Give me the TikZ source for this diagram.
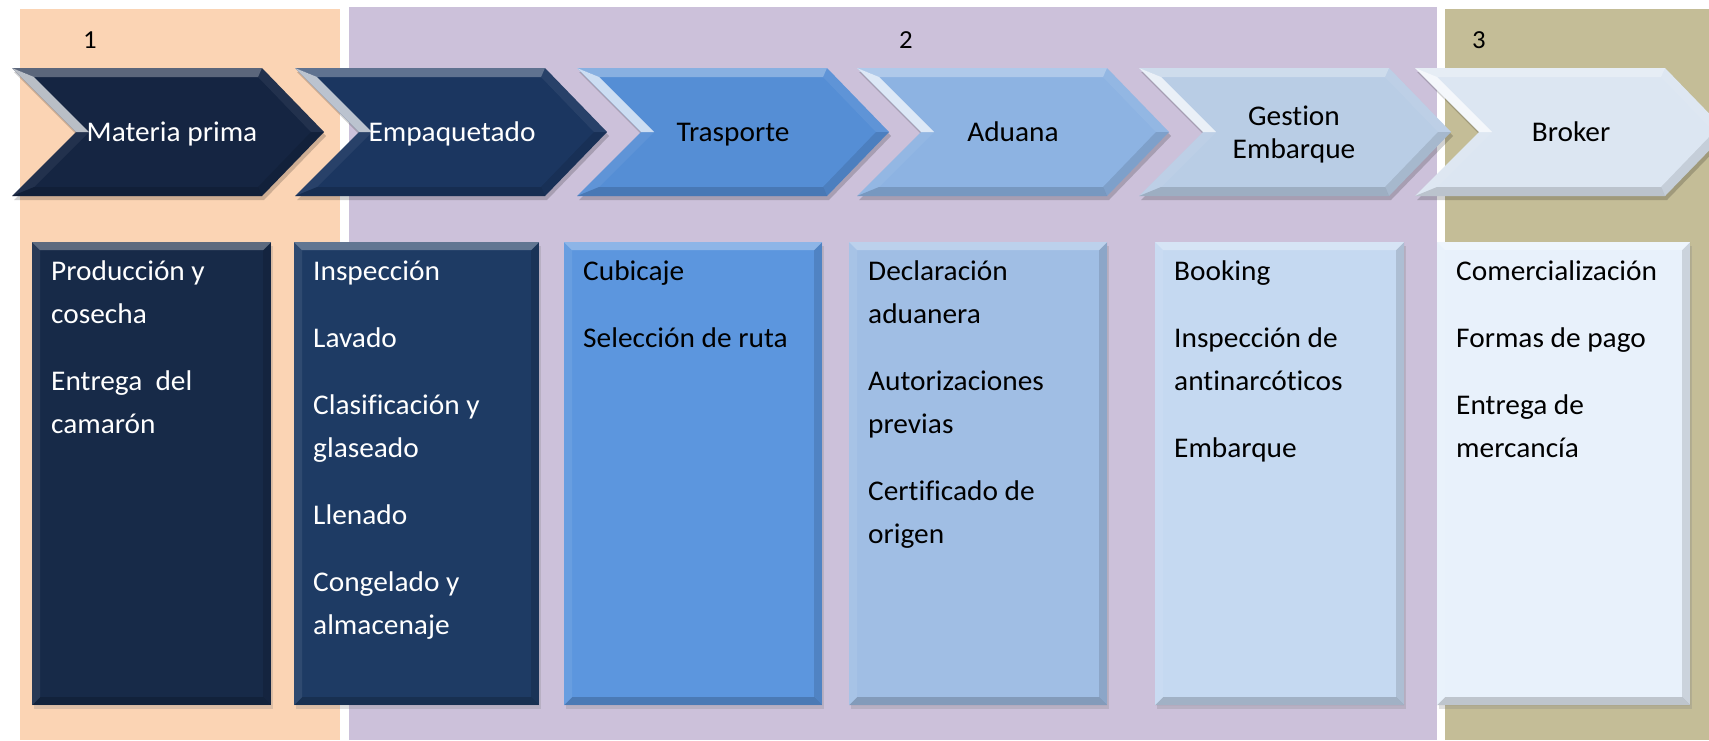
\documentclass[tikz,border=0pt]{standalone}
\usepackage{fontspec}
\setmainfont{Carlito}[Ligatures=NoCommon, FakeStretch=1.03]
\usepackage{tikz}
\usetikzlibrary{positioning, shadows}
\definecolor{fondouno}{HTML}{FBD4B4}
\definecolor{fondodos}{HTML}{CCC1DA}
\definecolor{fondotres}{HTML}{C4BD97}
\definecolor{flechauno}{HTML}{152542}
\definecolor{flechados}{HTML}{1B3660}
\definecolor{flechatres}{HTML}{558ED5}
\definecolor{flechacuatro}{HTML}{8DB3E2}
\definecolor{flechacinco}{HTML}{B9CDE5}
\definecolor{flechaseis}{HTML}{DCE6F2}
\definecolor{cajauno}{HTML}{172A48}
\definecolor{cajados}{HTML}{1E3B64}
\definecolor{cajatres}{HTML}{5C96DE}
\definecolor{cajacuatro}{HTML}{A0BEE4}
\definecolor{cajacinco}{HTML}{C5D9F1}
\definecolor{cajaseis}{HTML}{E8F1FB}
\tikzstyle{etapa} = [font=\fontsize{28.5}{33}\selectfont, align=center, inner sep=0pt]
\tikzstyle{numero} = [font=\fontsize{26}{26}\selectfont, inner sep=0pt, anchor=base]
\tikzstyle{texto} = [font=\fontsize{28.5}{43}\selectfont, inner sep=0pt, anchor=base west]
\tikzstyle{caja} = [rectangle, inner sep=0pt, anchor=north west, minimum height=463pt,
    drop shadow={opacity=.25, shadow xshift=2pt, shadow yshift=-4pt},
    path picture={
      \fill[white, opacity=.3] (path picture bounding box.north west) -- (path picture bounding box.north east)
        -- ([shift={(-8pt,-8pt)}]path picture bounding box.north east) -- ([shift={(8pt,-8pt)}]path picture bounding box.north west) -- cycle;
      \fill[black, opacity=.12] (path picture bounding box.north east) -- (path picture bounding box.south east)
        -- ([shift={(-8pt,8pt)}]path picture bounding box.south east) -- ([shift={(-8pt,-8pt)}]path picture bounding box.north east) -- cycle;
      \fill[black, opacity=.18] (path picture bounding box.south east) -- (path picture bounding box.south west)
        -- ([shift={(8pt,8pt)}]path picture bounding box.south west) -- ([shift={(-8pt,8pt)}]path picture bounding box.south east) -- cycle;
      \fill[white, opacity=.08] (path picture bounding box.south west) -- (path picture bounding box.north west)
        -- ([shift={(8pt,-8pt)}]path picture bounding box.north west) -- ([shift={(8pt,8pt)}]path picture bounding box.south west) -- cycle;
    }]
% flecha con bisel, #1 = x izquierda, #2 = color
\newcommand{\flecha}[2]{%
  \fill[black, opacity=.18] (#1+2,72) -- (#1+252,72) -- (#1+314,136) -- (#1+252,200) -- (#1+2,200) -- (#1+66,136) -- cycle;
  \fill[#2] (#1,68) -- (#1+250,68) -- (#1+312,132) -- (#1+250,196) -- (#1,196) -- (#1+64,132) -- cycle;
  \fill[white, opacity=.3] (#1,68) -- (#1+250,68) -- (#1+246,77) -- (#1+22,77) -- cycle; %arriba
  \fill[white, opacity=.7] (#1,68) -- (#1+22,77) -- (#1+77,132) -- (#1+64,132) -- cycle; %muesca
  \fill[white, opacity=.06] (#1+64,132) -- (#1+77,132) -- (#1+22,187) -- (#1,196) -- cycle;
  \fill[white, opacity=.06] (#1+250,68) -- (#1+312,132) -- (#1+299,132) -- (#1+246,77) -- cycle;
  \fill[black, opacity=.1] (#1+312,132) -- (#1+250,196) -- (#1+246,187) -- (#1+299,132) -- cycle;
  \fill[black, opacity=.15] (#1+250,196) -- (#1,196) -- (#1+22,187) -- (#1+246,187) -- cycle; %abajo
}

\begin{document}
\begin{tikzpicture}[x=1pt, y=-1pt]
	\useasboundingbox (0,0) rectangle (1709,740);
	\clip (0,0) rectangle (1709,740);

	% fondos
	\fill[fondouno] (20,9) rectangle (340,740);
	\fill[fondodos] (349,7) rectangle (1437,740);
	\fill[fondotres] (1445,9) rectangle (1709,740);

	\node[numero] (n1) at (90,48) {1};
	\node[numero] (n2) at (906,48) {2};
	\node[numero] (n3) at (1479,48) {3};

	% flechas
	\flecha{12}{flechauno}
	\flecha{295}{flechados}
	\flecha{577}{flechatres}
	\flecha{857}{flechacuatro}
	\flecha{1139}{flechacinco}
	\flecha{1415}{flechaseis}

	\node[etapa, anchor=base, text=white] (e1) at (172,141) {Materia prima};
	\node[etapa, anchor=base, text=white] (e2) at (452,141) {Empaquetado};
	\node[etapa, anchor=base] (e3) at (733,141) {Trasporte};
	\node[etapa, anchor=base] (e4) at (1013,141) {Aduana};
	\node[etapa] (e5) at (1294,134) {Gestion\\Embarque};
	\node[etapa, anchor=base] (e6) at (1571,141) {Broker};

	% cajas
	\node[caja, fill=cajauno, minimum width=239pt] (c1) at (32,242) {};
	\node[caja, fill=cajados, minimum width=245pt] (c2) at (294,242) {};
	\node[caja, fill=cajatres, minimum width=258pt] (c3) at (564,242) {};
	\node[caja, fill=cajacuatro, minimum width=258pt] (c4) at (849,242) {};
	\node[caja, fill=cajacinco, minimum width=249pt] (c5) at (1155,242) {};
	\node[caja, fill=cajaseis, minimum width=253pt] (c6) at (1437,242) {};

	\node[texto, text=white] (t1) at (51,280) {\parbox[t]{215pt}{Producción y\\cosecha\\[24pt]Entrega~~del\\camarón}};
	\node[texto, text=white] (t2) at (313,280) {\parbox[t]{220pt}{Inspección\\[24pt]Lavado\\[24pt]Clasificación y\\glaseado\\[24pt]Llenado\\[24pt]Congelado y\\almacenaje}};
	\node[texto] (t3) at (583,280) {\parbox[t]{235pt}{Cubicaje\\[24pt]Selección de ruta}};
	\node[texto] (t4) at (868,280) {\parbox[t]{235pt}{Declaración\\aduanera\\[24pt]Autorizaciones\\previas\\[24pt]Certificado de\\origen}};
	\node[texto] (t5) at (1174,280) {\parbox[t]{225pt}{Booking\\[24pt]Inspección de\\antinarcóticos\\[24pt]Embarque}};
	\node[texto] (t6) at (1456,280) {\parbox[t]{230pt}{Comercialización\\[24pt]Formas de pago\\[24pt]Entrega de\\mercancía}};
\end{tikzpicture}
\end{document}
